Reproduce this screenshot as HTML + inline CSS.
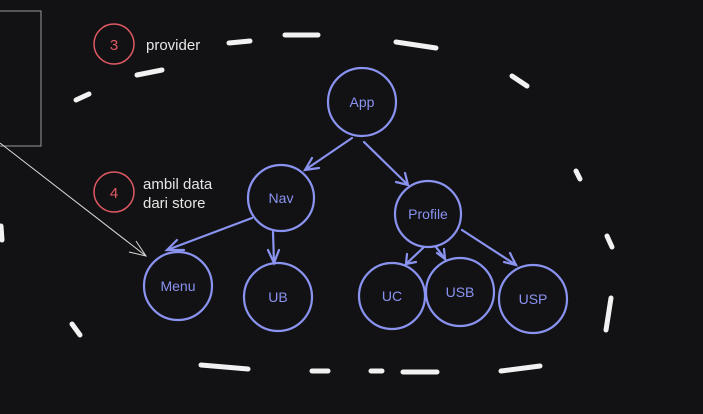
<!DOCTYPE html>
<html><head><style>
html,body{margin:0;padding:0;background:#121214;}
svg{display:block;}
text{font-family:"Liberation Sans",sans-serif;}
</style></head><body>
<svg width="703" height="414" viewBox="0 0 703 414" xmlns="http://www.w3.org/2000/svg">
<rect width="703" height="414" fill="#121214"/>
<rect x="-2" y="11" width="43" height="135" fill="none" stroke="#9a9a9a" stroke-width="1"/>
<g stroke="#d8d8d8" stroke-width="1" fill="none">
<line x1="0" y1="143" x2="146" y2="256"/>
<polyline points="136,241 146,256 129,252"/>
</g>
<g stroke="#f2f2f2" stroke-width="5" stroke-linecap="round" fill="none">
<line x1="229" y1="43" x2="250" y2="41"/>
<line x1="285" y1="35" x2="318" y2="35"/>
<line x1="396" y1="42" x2="436" y2="48"/>
<line x1="512" y1="76" x2="527" y2="86"/>
<line x1="137" y1="75" x2="162" y2="70"/>
<line x1="76" y1="100" x2="89" y2="94"/>
<line x1="576" y1="171" x2="580" y2="179"/>
<line x1="607" y1="236" x2="612" y2="247"/>
<line x1="611" y1="298" x2="606" y2="330"/>
<line x1="72" y1="324" x2="80" y2="335"/>
<line x1="201" y1="365" x2="248" y2="369"/>
<line x1="312" y1="371" x2="328" y2="371"/>
<line x1="371" y1="371" x2="382" y2="371"/>
<line x1="403" y1="372" x2="437" y2="372"/>
<line x1="501" y1="371" x2="540" y2="366"/>
<line x1="1" y1="226" x2="2" y2="240"/>
</g>
<g stroke="#e05a63" stroke-width="1.5" fill="none">
<circle cx="114" cy="44" r="20"/>
<circle cx="114" cy="192" r="20"/>
</g>
<g fill="#e05a63" font-size="15" text-anchor="middle">
<text x="114" y="50">3</text>
<text x="114" y="198">4</text>
</g>
<g fill="#e6e6e6" font-size="15">
<text x="146" y="50">provider</text>
<text x="143" y="189">ambil data</text>
<text x="143" y="208">dari store</text>
</g>
<g stroke="#8a93f0" stroke-width="2.2" fill="none" stroke-linecap="round">
<circle cx="362" cy="102" r="34"/>
<circle cx="281" cy="198" r="33"/>
<circle cx="428" cy="214" r="33"/>
<circle cx="178" cy="286" r="34"/>
<circle cx="278" cy="297" r="34"/>
<circle cx="392" cy="296" r="33"/>
<circle cx="460" cy="292" r="34"/>
<circle cx="533" cy="299" r="34"/>
<line x1="352" y1="138" x2="305" y2="170"/><polyline points="312,158 305,170 319,168"/>
<line x1="364" y1="142" x2="408" y2="185"/><polyline points="396,182 408,185 405,173"/>
<line x1="252" y1="218" x2="167" y2="250"/><polyline points="177,240 167,250 184,250"/>
<line x1="273" y1="232" x2="274" y2="263"/><polyline points="268,250 274,263 279,250"/>
<line x1="423" y1="248" x2="406" y2="264"/><polyline points="407,254 406,264 416,262"/>
<line x1="436" y1="247" x2="445" y2="259"/><polyline points="444,249 445,259 437,253"/>
<line x1="462" y1="230" x2="516" y2="265"/><polyline points="504,262 516,265 510,253"/>
</g>
<g fill="#8a93f0" font-size="14" text-anchor="middle">
<text x="362" y="107">App</text>
<text x="281" y="203">Nav</text>
<text x="428" y="219">Profile</text>
<text x="178" y="291">Menu</text>
<text x="278" y="302">UB</text>
<text x="392" y="301">UC</text>
<text x="460" y="297">USB</text>
<text x="533" y="304">USP</text>
</g>
</svg>
</body></html>
